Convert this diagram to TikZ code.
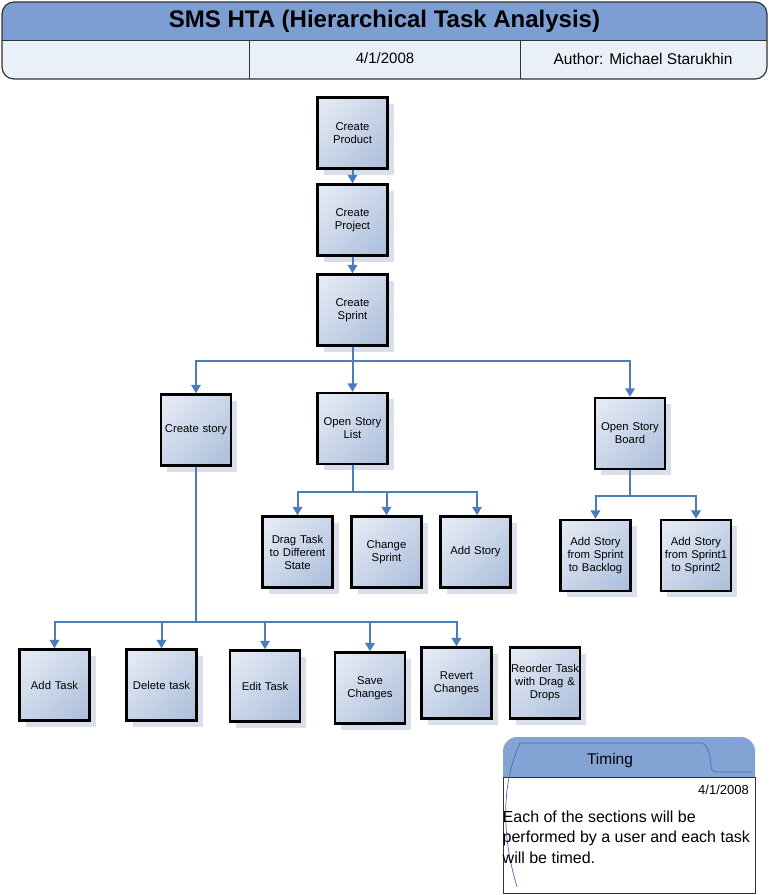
\documentclass[tikz,border=0pt]{standalone}
\usepackage{fontspec}
\setmainfont{Liberation Sans}
\usetikzlibrary{arrows.meta,shadows,shadings}
\definecolor{arrblue}{HTML}{4A7EBB}
\definecolor{titleblue}{HTML}{7C9ED2}
\definecolor{rowfill}{HTML}{EAF0F8}
\definecolor{shadowc}{HTML}{D9DFEA}
\definecolor{boxtl}{HTML}{E8EDF6}
\definecolor{boxmid}{HTML}{C9D5E8}
\definecolor{boxbr}{HTML}{AABDDB}
\definecolor{frame}{HTML}{333333}
\definecolor{curveblue}{HTML}{3F6FB5}
\begin{document}
\begin{tikzpicture}[x=1pt,y=-1pt,
  task/.style={draw=black, line width=2.4pt, minimum width=70pt, minimum height=71pt,
    inner sep=1pt, text width=68pt, align=center,
    font=\fontsize{11.3}{13}\selectfont,
    shade, upper left=boxtl, upper right=boxmid, lower left=boxmid, lower right=boxbr,
    drop shadow={shadow xshift=6pt, shadow yshift=-6pt, fill=shadowc, opacity=1, draw=none}},
  arr/.style={draw=arrblue, line width=2pt, -{Triangle[length=8.5pt,width=9.5pt]}},
  link/.style={draw=arrblue, line width=2pt}]
\useasboundingbox (0,0) rectangle (769,895);
\fill[white] (0,0) rectangle (769,895);

% ---------- header ----------
\fill[rowfill, rounded corners=12pt] (2,2) rectangle (767,79);
\begin{scope}
  \clip (0,0) rectangle (769,40);
  \fill[titleblue, rounded corners=12pt] (2,2) rectangle (767,79);
\end{scope}
\draw[frame, line width=1pt] (2,40) -- (767,40);
\draw[frame, line width=1pt] (249,40) -- (249,79);
\draw[frame, line width=1pt] (520,40) -- (520,79);
\draw[frame, line width=1.2pt, rounded corners=12pt] (2,2) rectangle (767,79);
\node[font=\bfseries\fontsize{24}{28}\selectfont, text=black] (title) at (384.5,21) {SMS HTA (Hierarchical Task Analysis)};
\node[font=\fontsize{15}{18}\selectfont] (hdate) at (385,58) {4/1/2008};
\node[font=\fontsize{15.5}{18}\selectfont] (author) at (643,59) {Author: Michael Starukhin};

% ---------- tasks ----------
\node[task] (prod)   at (352.5,133) {Create\\Product};
\node[task] (proj)   at (352.5,220) {Create\\Project};
\node[task] (sprint) at (352.5,310) {Create\\Sprint};

\node[task] (story) at (196,430)   {Create story};
\node[task] (osl)   at (352.5,428.5) {Open Story\\List};
\node[task] (osb)   at (630,433.5) {Open Story\\Board};

\node[task] (drag) at (297.5,552) {Drag Task\\to Different\\State};
\node[task] (chg)  at (386.5,552) {Change\\Sprint};
\node[task] (adds) at (475.5,552) {Add Story};

\node[task] (fsb) at (595.5,555.5) {Add Story\\from Sprint\\to Backlog};
\node[task] (fs1) at (696,555.5)   {Add Story\\from Sprint1\\to Sprint2};

\node[task] (addt) at (54.5,685)  {Add Task};
\node[task] (del)  at (161.5,685) {Delete task};
\node[task] (edit) at (265,686)   {Edit Task};
\node[task] (save) at (370,688)   {Save\\Changes};
\node[task] (rev)  at (456.5,683) {Revert\\Changes};
\node[task] (reo)  at (545,683)   {Reorder Task\\with Drag \&\\Drops};

% ---------- connectors ----------
\draw[arr] (prod.south) -- (proj.north);
\draw[arr] (proj.south) -- (sprint.north);

\coordinate (b1) at (352.5,361);
\draw[arr] (sprint.south) -- (osl.north);
\draw[arr] (b1) -| (story.north);
\draw[arr] (b1) -| (osb.north);

\coordinate (b2) at (352.5,492);
\draw[link] (osl.south) -- (b2);
\draw[arr] (b2) -| (drag.north);
\draw[arr] (b2) -| (chg.north);
\draw[arr] (b2) -| ([xshift=1.5pt]adds.north);

\coordinate (b4) at (630,496);
\draw[link] (osb.south) -- (b4);
\draw[arr] (b4) -| (fsb.north);
\draw[arr] (b4) -| (fs1.north);

\coordinate (b3) at (196,622);
\draw[link] (story.south) -- (b3);
\draw[arr] (b3) -| (addt.north);
\draw[arr] (b3) -| (del.north);
\draw[arr] (b3) -| (edit.north);
\draw[arr] (b3) -| (save.north);
\draw[arr] (b3) -| (rev.north);

% ---------- timing note ----------
\fill[white] (503,777) rectangle (755,893);
\begin{scope}
  \clip (0,700) rectangle (769,777);
  \fill[titleblue!95!white, rounded corners=14pt] (503,737) rectangle (755,800);
\end{scope}
\draw[frame, line width=0.9pt] (503,777) rectangle (755,893);
\draw[curveblue, line width=0.7pt] (517,887) .. controls (500,830) and (503,780) .. (520,743)
  -- (702,743) .. controls (709,746) and (711,758) .. (711,768)
  .. controls (712,771) and (714,772) .. (718,772) -- (752,772);
\node[font=\fontsize{15.5}{18}\selectfont] (timing) at (610,760) {Timing};
\node[font=\fontsize{13}{15}\selectfont, anchor=east, inner sep=0pt] (tdate) at (749,790) {4/1/2008};
\node[font=\fontsize{16}{20.5}\selectfont, anchor=north west, inner sep=0pt, align=left] (tnote) at (502.5,810.5)
  {Each of the sections will be\\performed by a user and each task\\will be timed.};
\end{tikzpicture}
\end{document}
